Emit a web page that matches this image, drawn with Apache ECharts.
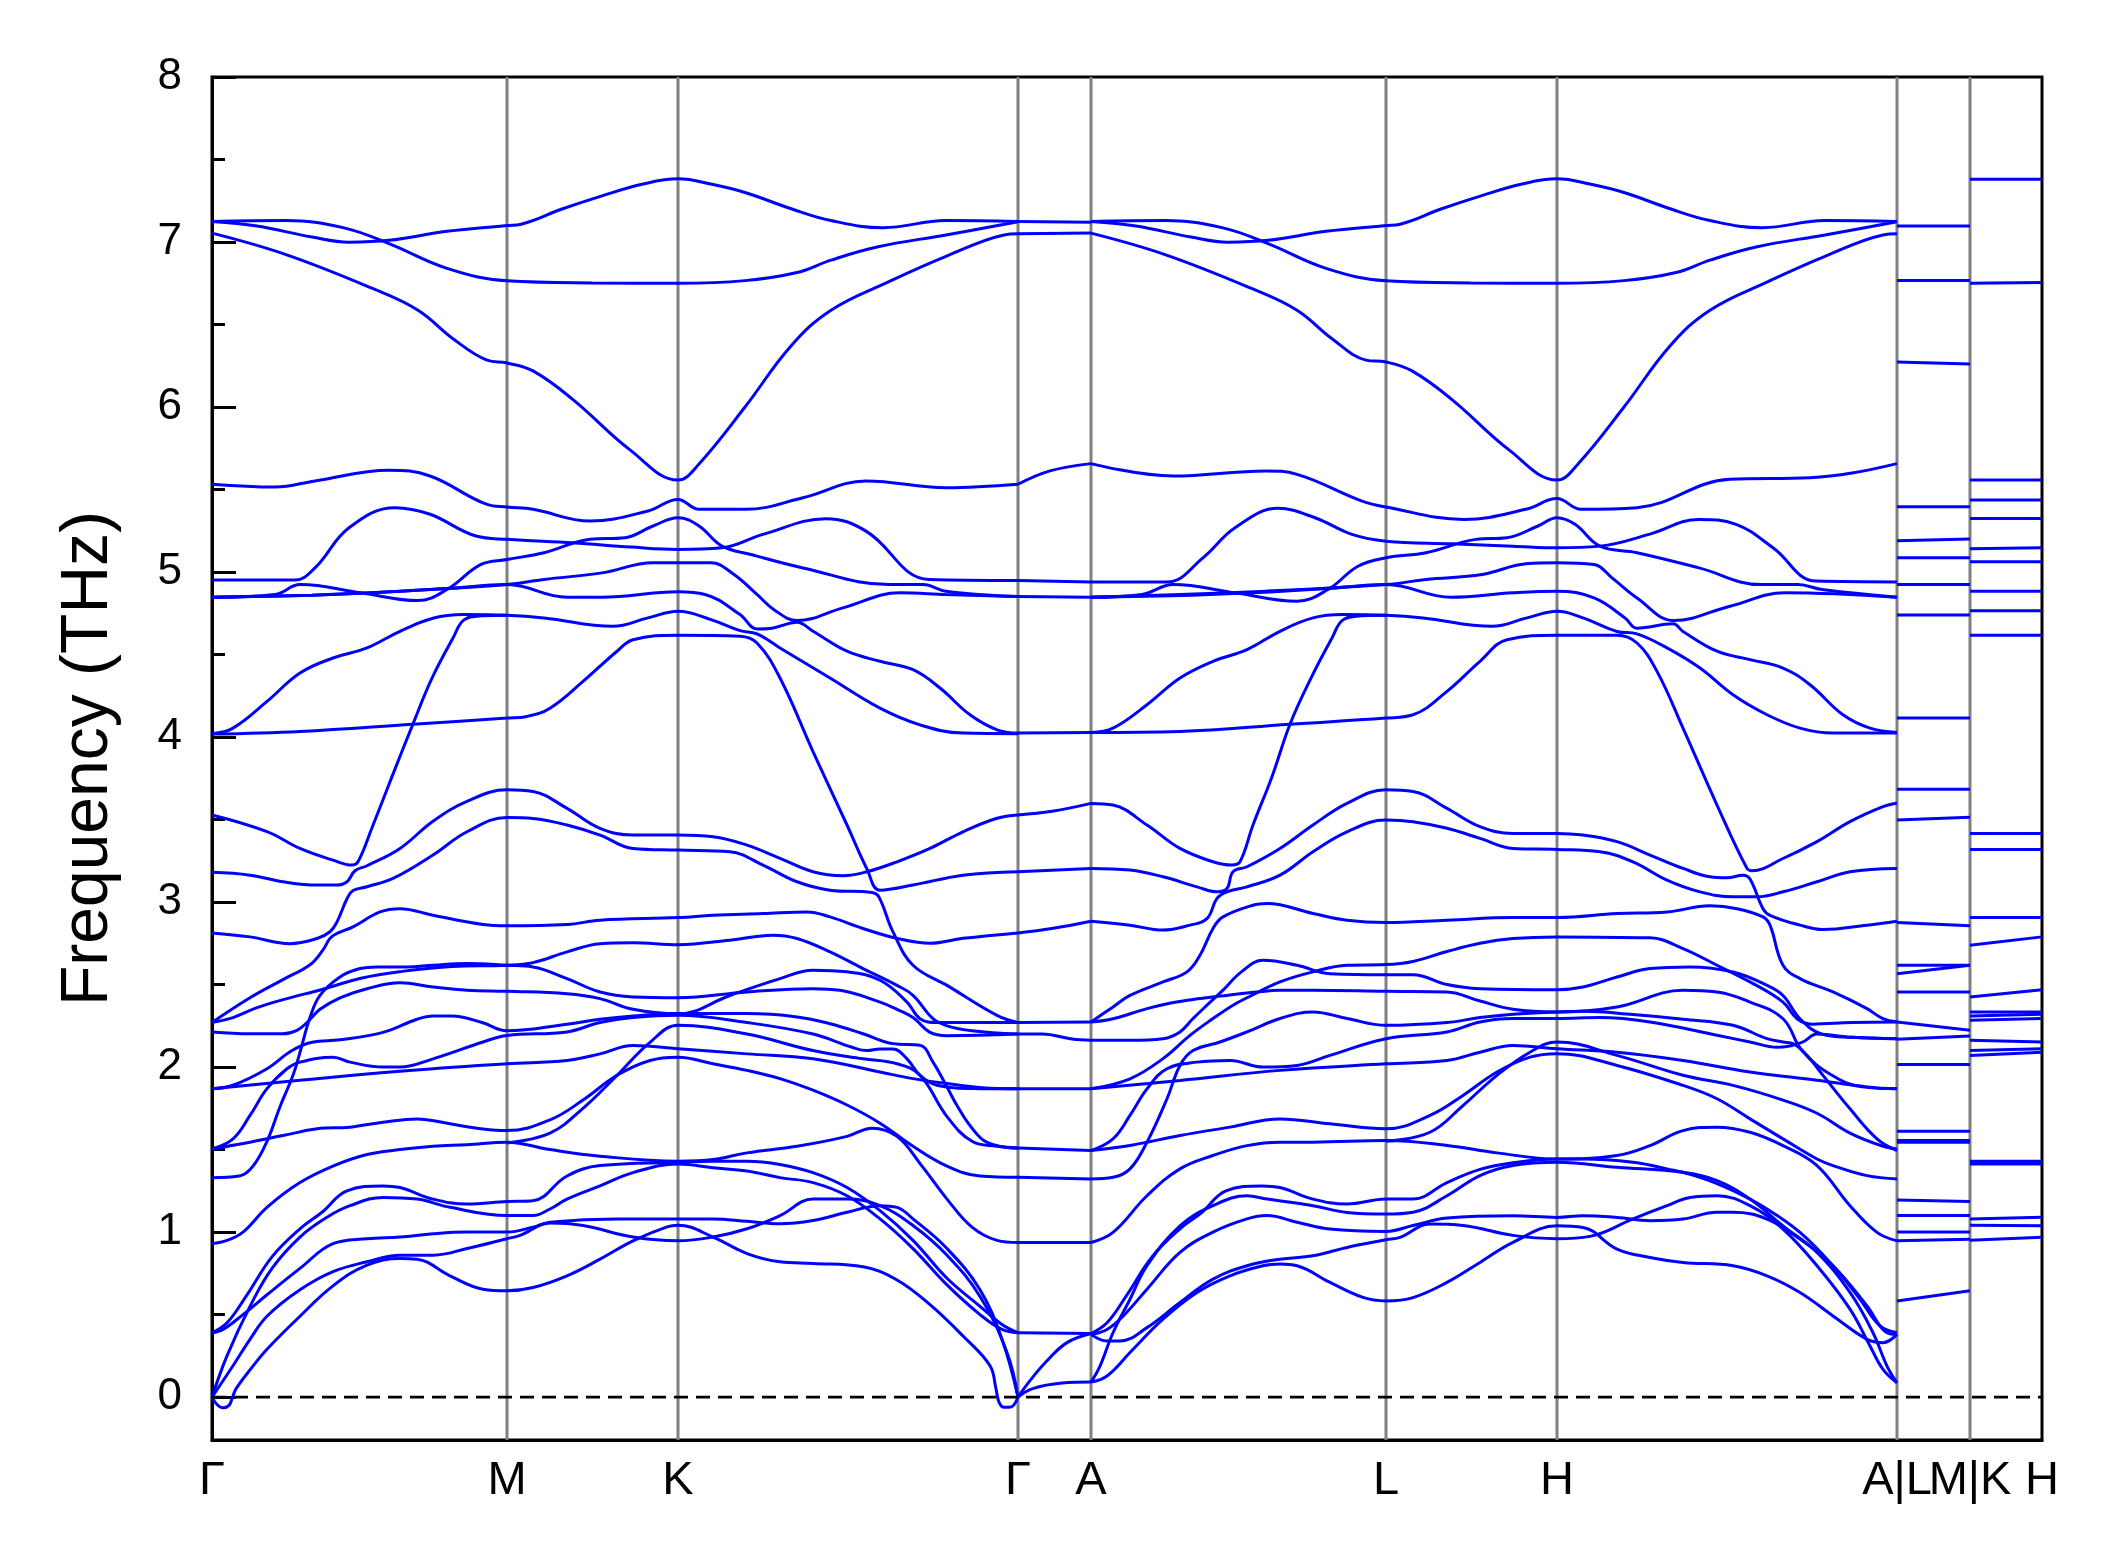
<!DOCTYPE html>
<html>
<head>
<meta charset="utf-8">
<script src="https://cdn.jsdelivr.net/npm/echarts/dist/echarts.min.js"></script>
<style>
html,body{margin:0;padding:0;background:#fff;}
#chart{width:2120px;height:1567px;}
</style>
</head>
<body>
<div id="chart"></div>
<script>
// ---- high-symmetry path ----
const kLabels = ['Γ','M','K','Γ','A','L','H','A|L','M|K','H'];
const kPos = [0,295,466,806,879,1174,1345,1685,1758,1830];
const yMajor = [0,1,2,3,4,5,6,7,8];
const yMinor = [0.5,1.5,2.5,3.5,4.5,5.5,6.5,7.5];

// ---- Γ-M-K-Γ : upper bands ----
const upperGMKG = [
 [[0,7.124],[45,7.097],[100,7.03],[137,6.999],[177,7.01],[235,7.065],[295,7.1],[309,7.108],[350,7.2],[390,7.28],[430,7.35],[466,7.383],[500,7.35],[533,7.3],[580,7.2],[619,7.13],[671,7.087],[734,7.13],[806,7.125]],
 [[0,7.124],[74,7.13],[131,7.087],[177,6.99],[235,6.84],[295,6.765],[380,6.752],[466,6.75],[533,6.766],[585,6.815],[619,6.89],[665,6.97],[734,7.043],[806,7.123]],
 [[0,7.054],[74,6.924],[160,6.72],[206,6.587],[241,6.414],[275,6.284],[295,6.267],[321,6.219],[361,6.045],[418,5.74],[466,5.557],[487,5.655],[533,6.0],[579,6.37],[619,6.587],[677,6.76],[734,6.913],[792,7.043],[806,7.05]],
 [[0,5.532],[63,5.515],[103,5.552],[177,5.617],[218,5.582],[275,5.41],[295,5.394],[321,5.38],[378,5.309],[436,5.37],[466,5.44],[487,5.38],[533,5.38],[591,5.45],[654,5.552],[734,5.511],[806,5.532]],
 [[0,4.951],[83,4.951],[103,5.025],[137,5.268],[183,5.39],[218,5.35],[264,5.218],[295,5.198],[361,5.177],[419,5.151],[466,5.137],[510,5.147],[551,5.228],[614,5.323],[654,5.248],[717,4.955],[806,4.949]],
 [[0,4.847],[63,4.864],[88,4.924],[149,4.874],[206,4.827],[235,4.894],[269,5.046],[295,5.076],[332,5.117],[378,5.198],[413,5.208],[441,5.279],[466,5.329],[487,5.279],[510,5.157],[539,5.106],[591,5.025],[677,4.924],[711,4.924],[734,4.884],[806,4.851]],
 [[0,4.847],[100,4.86],[160,4.874],[235,4.9],[295,4.924],[332,4.955],[390,4.995],[441,5.056],[466,5.056],[499,5.056],[522,4.985],[545,4.864],[562,4.772],[585,4.706],[631,4.783],[688,4.874],[734,4.864],[806,4.851]],
 [[0,4.847],[100,4.86],[160,4.874],[235,4.9],[295,4.924],[355,4.847],[390,4.847],[466,4.88],[493,4.864],[528,4.742],[545,4.655],[560,4.66],[585,4.695],[601,4.641],[635,4.52],[668,4.459],[701,4.408],[728,4.297],[758,4.135],[785,4.044],[806,4.024]],
 [[0,4.02],[21,4.054],[55,4.216],[88,4.388],[121,4.479],[155,4.54],[188,4.641],[221,4.72],[252,4.742],[295,4.738],[332,4.722],[401,4.671],[436,4.722],[466,4.762],[499,4.712],[528,4.645],[545,4.625],[568,4.54],[618,4.358],[668,4.175],[708,4.074],[751,4.024],[806,4.02]],
 [[0,4.018],[88,4.034],[201,4.078],[295,4.115],[315,4.125],[338,4.175],[371,4.337],[405,4.52],[421,4.59],[466,4.617],[528,4.611],[545,4.57],[568,4.358],[601,3.912],[635,3.467],[655,3.2],[668,3.072],[701,3.103],[751,3.163],[806,3.184]]
];

// ---- Γ-M-K-Γ : middle bands ----
const middleGMKG = [
 [[0,3.528],[55,3.427],[88,3.325],[121,3.254],[140,3.224],[146,3.244],[160,3.45],[180,3.76],[201,4.08],[220,4.357],[241,4.6],[252,4.71],[270,4.735],[295,4.738]],
 [[0,3.18],[38,3.163],[71,3.123],[105,3.103],[125,3.103],[135,3.123],[143,3.19],[155,3.22],[188,3.325],[221,3.49],[255,3.61],[295,3.68],[321,3.67],[355,3.568],[388,3.447],[421,3.406],[466,3.406],[501,3.396],[535,3.345],[568,3.265],[601,3.184],[631,3.16],[655,3.184],[685,3.244],[718,3.325],[751,3.426],[785,3.508],[806,3.528]],
 [[0,2.813],[38,2.789],[78,2.748],[105,2.779],[118,2.82],[125,2.88],[135,3.02],[141,3.07],[155,3.093],[181,3.143],[221,3.285],[255,3.426],[295,3.513],[321,3.507],[355,3.467],[388,3.406],[421,3.325],[466,3.315],[518,3.305],[551,3.224],[585,3.123],[618,3.072],[660,3.058],[667,3.03],[681,2.819],[701,2.617],[735,2.495],[785,2.313],[806,2.27]],
 [[0,2.27],[38,2.42],[71,2.53],[98,2.62],[111,2.71],[118,2.78],[125,2.81],[141,2.85],[168,2.94],[188,2.96],[221,2.92],[271,2.864],[295,2.856],[355,2.864],[388,2.89],[466,2.906],[501,2.92],[551,2.93],[595,2.94],[618,2.91],[651,2.84],[685,2.78],[718,2.75],[751,2.78],[806,2.813]],
 [[0,2.27],[21,2.3],[45,2.36],[75,2.415],[110,2.47],[150,2.54],[190,2.58],[240,2.61],[295,2.617],[321,2.633],[355,2.698],[388,2.748],[421,2.754],[466,2.742],[518,2.769],[561,2.799],[585,2.779],[618,2.698],[651,2.597],[685,2.495],[701,2.435],[721,2.293],[735,2.25],[760,2.22],[806,2.2]],
 [[0,1.33],[27,1.34],[41,1.4],[55,1.55],[68,1.76],[81,1.95],[88,2.09],[98,2.3],[108,2.434],[128,2.546],[148,2.597],[165,2.607],[195,2.607],[221,2.617],[255,2.627],[295,2.617],[321,2.607],[355,2.536],[388,2.455],[421,2.425],[466,2.42],[535,2.455],[601,2.475],[628,2.465],[668,2.394],[685,2.35],[701,2.3],[718,2.21],[735,2.19],[806,2.2]],
 [[0,2.213],[38,2.202],[71,2.202],[85,2.223],[95,2.27],[108,2.35],[128,2.42],[155,2.475],[188,2.511],[221,2.485],[255,2.465],[295,2.459],[355,2.445],[388,2.415],[421,2.35],[466,2.323],[518,2.434],[568,2.536],[601,2.587],[635,2.577],[668,2.526],[695,2.394],[708,2.293],[725,2.27],[760,2.27],[806,2.27]]
];

// ---- Γ-M-K-Γ : lower bands ----
const lowerGMKG = [
 [[0,0],[5,-0.045],[11,-0.065],[17,-0.05],[20,-0.01],[24,0.05],[40,0.18],[55,0.29],[88,0.49],[121,0.674],[155,0.8],[188,0.84],[205,0.836],[238,0.735],[271,0.654],[295,0.644],[321,0.664],[355,0.735],[388,0.836],[421,0.947],[455,1.032],[466,1.042],[501,0.97],[535,0.87],[568,0.82],[601,0.81],[651,0.79],[685,0.71],[718,0.56],[751,0.37],[778,0.19],[784,0.05],[787,-0.03],[792,-0.062],[799,-0.06],[806,0]],
 [[0,0],[21,0.19],[38,0.35],[55,0.49],[88,0.65],[121,0.76],[155,0.82],[188,0.86],[221,0.86],[255,0.9],[295,0.96],[308,0.98],[338,1.055],[371,1.04],[421,0.97],[466,0.947],[501,0.97],[535,1.02],[568,1.1],[601,1.2],[635,1.2],[668,1.16],[701,1.04],[735,0.86],[768,0.61],[795,0.27],[806,0]],
 [[0,0],[15,0.25],[38,0.55],[60,0.78],[88,0.97],[115,1.09],[138,1.16],[171,1.21],[205,1.2],[238,1.15],[295,1.1],[321,1.1],[338,1.14],[355,1.2],[388,1.28],[421,1.36],[466,1.413],[501,1.39],[535,1.37],[568,1.33],[601,1.3],[635,1.22],[668,1.08],[701,0.9],[735,0.68],[768,0.5],[790,0.41],[806,0.39]],
 [[0,0.39],[11,0.41],[31,0.5],[55,0.62],[88,0.78],[121,0.93],[155,0.96],[188,0.97],[221,0.99],[255,1.0],[295,1.0],[321,1.03],[338,1.06],[405,1.08],[466,1.079],[501,1.08],[535,1.065],[568,1.05],[601,1.07],[635,1.12],[668,1.16],[685,1.15],[701,1.08],[735,0.9],[768,0.65],[790,0.35],[806,0]],
 [[0,0.39],[15,0.45],[35,0.62],[60,0.85],[88,1.02],[110,1.12],[135,1.25],[171,1.28],[188,1.27],[221,1.2],[255,1.17],[295,1.185],[321,1.19],[355,1.34],[388,1.403],[466,1.423],[501,1.43],[535,1.43],[568,1.41],[601,1.36],[635,1.27],[668,1.13],[701,0.95],[735,0.72],[768,0.55],[790,0.44],[806,0.39]],
 [[0,0.93],[15,0.95],[31,1.0],[55,1.15],[88,1.3],[121,1.4],[155,1.47],[188,1.5],[221,1.52],[255,1.53],[295,1.545],[338,1.5],[388,1.46],[466,1.43],[501,1.44],[535,1.48],[585,1.52],[635,1.58],[660,1.63],[685,1.58],[710,1.4],[735,1.2],[760,1.03],[785,0.95],[806,0.937]],
 [[0,1.504],[38,1.545],[71,1.585],[105,1.626],[138,1.636],[171,1.666],[205,1.686],[238,1.656],[271,1.625],[295,1.615],[338,1.68],[371,1.8],[405,1.95],[438,2.04],[466,2.06],[501,2.02],[535,1.98],[568,1.93],[601,1.86],[635,1.77],[668,1.66],[701,1.52],[735,1.4],[768,1.34],[806,1.332]],
 [[0,1.504],[21,1.565],[38,1.707],[55,1.869],[75,1.99],[88,2.03],[121,2.06],[138,2.03],[171,2.0],[188,2.0],[221,2.05],[271,2.152],[295,2.192],[355,2.213],[388,2.27],[421,2.3],[466,2.314],[535,2.27],[601,2.2],[640,2.12],[655,2.1],[668,2.11],[681,2.11],[695,2.05],[708,1.95],[725,1.89],[760,1.87],[806,1.868]],
 [[0,1.868],[88,1.92],[188,1.975],[295,2.02],[355,2.04],[388,2.08],[421,2.13],[466,2.111],[535,2.08],[601,2.05],[668,1.97],[701,1.93],[735,1.9],[770,1.875],[806,1.868]],
 [[0,1.868],[21,1.89],[55,1.99],[80,2.1],[100,2.15],[128,2.165],[171,2.21],[205,2.29],[221,2.31],[240,2.31],[270,2.27],[295,2.22],[355,2.26],[388,2.29],[421,2.31],[466,2.324],[535,2.324],[585,2.304],[618,2.263],[651,2.202],[681,2.142],[708,2.132],[721,2.03],[735,1.879],[745,1.767],[758,1.646],[775,1.544],[806,1.508]],
 [[295,1.54],[338,1.6],[371,1.75],[405,1.95],[438,2.15],[466,2.253],[535,2.2],[601,2.1],[651,2.05],[685,2.02],[708,1.95],[735,1.7],[760,1.55],[785,1.52],[806,1.51]]
];

// ---- Γ-A ----
const bandsGA = [
 [[806,7.125],[879,7.12]],[[806,7.05],[879,7.054]],
 [[806,5.532],[838,5.613],[879,5.657]],
 [[806,4.949],[879,4.94]],[[806,4.851],[879,4.847]],
 [[806,4.024],[879,4.028]],
 [[806,3.528],[840,3.55],[879,3.598]],
 [[806,3.184],[879,3.204]],
 [[806,2.813],[840,2.84],[879,2.884]],
 [[806,2.27],[879,2.273]],
 [[806,2.2],[830,2.2],[860,2.17],[879,2.162]],
 [[806,1.868],[879,1.868]],
 [[806,1.51],[879,1.494]],
 [[806,1.332],[879,1.322]],
 [[806,0.937],[879,0.937]],
 [[806,0.39],[879,0.385]],
 [[806,0],[820,0.05],[850,0.085],[879,0.091]],
 [[806,0],[818,0.1],[835,0.22],[855,0.33],[879,0.385]]
];

// ---- A-L-H-A : upper bands ----
const upperALHA = [
 [[879,7.124],[924,7.097],[979,7.03],[1016,6.999],[1056,7.01],[1114,7.065],[1174,7.1],[1188,7.108],[1229,7.2],[1269,7.28],[1309,7.35],[1345,7.383],[1379,7.35],[1412,7.3],[1459,7.2],[1498,7.13],[1550,7.087],[1613,7.13],[1685,7.125]],
 [[879,7.124],[953,7.13],[1010,7.087],[1056,6.99],[1114,6.84],[1174,6.765],[1259,6.752],[1345,6.75],[1412,6.766],[1464,6.815],[1498,6.89],[1544,6.97],[1613,7.043],[1685,7.123]],
 [[879,7.054],[953,6.924],[1039,6.72],[1085,6.587],[1120,6.414],[1154,6.284],[1174,6.273],[1200,6.219],[1240,6.045],[1297,5.74],[1345,5.557],[1366,5.655],[1412,6.0],[1458,6.37],[1498,6.587],[1556,6.76],[1613,6.913],[1671,7.043],[1685,7.05]],
 [[879,5.657],[961,5.582],[1054,5.613],[1085,5.592],[1150,5.43],[1174,5.394],[1252,5.319],[1314,5.38],[1345,5.445],[1369,5.38],[1425,5.39],[1518,5.562],[1598,5.572],[1640,5.6],[1685,5.657]],
 [[879,4.94],[955,4.94],[991,5.086],[1023,5.268],[1066,5.386],[1103,5.329],[1140,5.228],[1174,5.187],[1239,5.171],[1301,5.157],[1345,5.147],[1388,5.157],[1437,5.228],[1487,5.319],[1524,5.289],[1561,5.147],[1604,4.945],[1685,4.94]],
 [[879,4.847],[930,4.864],[961,4.924],[1023,4.874],[1085,4.823],[1116,4.894],[1146,5.035],[1174,5.086],[1214,5.117],[1264,5.198],[1295,5.208],[1326,5.279],[1345,5.329],[1363,5.289],[1388,5.157],[1425,5.117],[1487,5.025],[1549,4.924],[1586,4.924],[1610,4.894],[1685,4.847]],
 [[879,4.847],[1054,4.884],[1174,4.924],[1214,4.955],[1270,4.985],[1314,5.05],[1345,5.056],[1382,5.046],[1400,4.965],[1425,4.843],[1462,4.706],[1518,4.793],[1573,4.874],[1685,4.847]],
 [[879,4.847],[980,4.86],[1040,4.874],[1114,4.9],[1174,4.924],[1239,4.847],[1301,4.874],[1345,4.884],[1382,4.843],[1413,4.722],[1425,4.66],[1461,4.686],[1471,4.64],[1505,4.52],[1538,4.469],[1571,4.418],[1598,4.317],[1631,4.135],[1658,4.054],[1685,4.028]],
 [[879,4.028],[901,4.054],[935,4.196],[968,4.358],[1001,4.459],[1035,4.53],[1068,4.641],[1101,4.722],[1131,4.742],[1174,4.738],[1211,4.722],[1280,4.671],[1315,4.722],[1345,4.762],[1371,4.722],[1405,4.64],[1425,4.625],[1455,4.54],[1488,4.418],[1521,4.256],[1555,4.135],[1588,4.054],[1621,4.024],[1685,4.024]],
 [[879,4.028],[968,4.034],[1078,4.078],[1174,4.115],[1201,4.135],[1235,4.277],[1268,4.459],[1295,4.59],[1345,4.617],[1405,4.617],[1425,4.57],[1445,4.398],[1471,4.054],[1505,3.588],[1535,3.204],[1540,3.19],[1571,3.264],[1605,3.366],[1638,3.487],[1671,3.578],[1685,3.6]]
];

// ---- A-L-H-A : middle bands ----
const middleALHA = [
 [[879,3.598],[901,3.588],[935,3.467],[968,3.325],[1001,3.244],[1020,3.224],[1028,3.244],[1041,3.467],[1060,3.76],[1078,4.078],[1099,4.357],[1120,4.6],[1131,4.71],[1150,4.735],[1174,4.738]],
 [[879,3.204],[918,3.194],[951,3.153],[985,3.092],[1005,3.062],[1015,3.082],[1021,3.184],[1035,3.214],[1068,3.325],[1101,3.467],[1135,3.598],[1174,3.68],[1201,3.67],[1235,3.568],[1268,3.457],[1301,3.416],[1345,3.416],[1371,3.406],[1405,3.366],[1438,3.285],[1471,3.204],[1498,3.153],[1515,3.147],[1531,3.163],[1538,3.14],[1551,2.96],[1558,2.92],[1588,2.86],[1611,2.833],[1655,2.86],[1685,2.884]],
 [[879,2.884],[918,2.86],[951,2.83],[978,2.86],[995,2.9],[1005,3.022],[1015,3.062],[1035,3.092],[1068,3.163],[1101,3.305],[1135,3.426],[1174,3.497],[1201,3.487],[1235,3.447],[1268,3.386],[1301,3.325],[1345,3.319],[1388,3.305],[1421,3.244],[1455,3.133],[1488,3.062],[1521,3.032],[1545,3.032],[1571,3.062],[1605,3.123],[1638,3.184],[1685,3.204]],
 [[879,2.273],[900,2.36],[918,2.434],[951,2.516],[975,2.577],[988,2.678],[1001,2.84],[1011,2.91],[1041,2.981],[1055,2.991],[1101,2.931],[1135,2.89],[1174,2.876],[1235,2.89],[1301,2.906],[1345,2.906],[1405,2.93],[1455,2.94],[1498,2.977],[1525,2.96],[1551,2.91],[1558,2.86],[1571,2.617],[1588,2.536],[1621,2.455],[1655,2.354],[1671,2.293],[1685,2.273]],
 [[879,2.162],[918,2.162],[951,2.172],[968,2.213],[981,2.294],[995,2.375],[1010,2.46],[1030,2.58],[1051,2.647],[1085,2.617],[1118,2.566],[1174,2.56],[1201,2.56],[1235,2.5],[1268,2.475],[1345,2.469],[1371,2.485],[1405,2.546],[1438,2.597],[1478,2.607],[1521,2.576],[1555,2.495],[1571,2.434],[1588,2.293],[1610,2.2],[1640,2.18],[1685,2.172]],
 [[879,1.868],[918,1.929],[951,2.051],[978,2.192],[1001,2.294],[1021,2.375],[1035,2.42],[1068,2.516],[1101,2.577],[1135,2.617],[1174,2.621],[1201,2.64],[1235,2.7],[1268,2.75],[1301,2.779],[1345,2.789],[1438,2.783],[1471,2.718],[1505,2.617],[1538,2.516],[1571,2.394],[1585,2.293],[1600,2.26],[1640,2.27],[1685,2.273]],
 [[879,2.273],[901,2.293],[935,2.354],[960,2.39],[981,2.41],[1008,2.43],[1045,2.455],[1068,2.465],[1101,2.465],[1174,2.459],[1235,2.455],[1268,2.4],[1301,2.35],[1345,2.333],[1405,2.364],[1471,2.465],[1505,2.455],[1538,2.394],[1571,2.293],[1590,2.1],[1620,1.95],[1650,1.88],[1685,1.868]]
];

// ---- A-L-H-A : lower bands ----
const lowerALHA = [
 [[879,1.322],[901,1.332],[918,1.383],[935,1.545],[955,1.808],[968,2.01],[981,2.1],[1008,2.152],[1035,2.213],[1068,2.294],[1101,2.334],[1135,2.294],[1174,2.253],[1235,2.27],[1268,2.3],[1301,2.32],[1345,2.334],[1371,2.338],[1421,2.318],[1471,2.29],[1521,2.253],[1555,2.172],[1571,2.152],[1581,2.142],[1595,2.071],[1611,1.95],[1638,1.747],[1665,1.565],[1685,1.494]],
 [[879,1.868],[968,1.919],[1068,1.98],[1174,2.02],[1235,2.04],[1268,2.09],[1301,2.131],[1345,2.111],[1405,2.09],[1471,2.04],[1538,1.97],[1605,1.92],[1655,1.88],[1685,1.868]],
 [[879,1.494],[901,1.565],[918,1.707],[935,1.868],[955,1.99],[985,2.03],[1018,2.04],[1051,2.0],[1085,2.01],[1118,2.071],[1174,2.172],[1235,2.213],[1268,2.273],[1301,2.294],[1345,2.294],[1388,2.3],[1438,2.273],[1505,2.193],[1538,2.152],[1565,2.12],[1590,2.15],[1605,2.2],[1640,2.18],[1685,2.172]],
 [[879,1.494],[918,1.525],[968,1.585],[1018,1.636],[1068,1.686],[1118,1.656],[1174,1.626],[1218,1.707],[1251,1.828],[1285,1.97],[1318,2.06],[1345,2.081],[1405,2.01],[1471,1.889],[1505,1.808],[1538,1.686],[1571,1.565],[1605,1.443],[1621,1.403],[1655,1.342],[1685,1.322]],
 [[879,0.937],[901,0.998],[935,1.22],[968,1.383],[1001,1.464],[1035,1.524],[1068,1.545],[1101,1.545],[1174,1.555],[1235,1.525],[1285,1.48],[1345,1.443],[1405,1.464],[1438,1.524],[1471,1.615],[1505,1.636],[1538,1.605],[1571,1.524],[1605,1.403],[1638,1.16],[1665,0.998],[1685,0.947]],
 [[1174,1.55],[1218,1.605],[1251,1.767],[1285,1.95],[1318,2.09],[1345,2.152],[1405,2.071],[1471,1.95],[1521,1.889],[1571,1.8],[1605,1.72],[1638,1.6],[1671,1.52],[1685,1.504]],
 [[879,0.091],[888,0.188],[901,0.39],[918,0.593],[935,0.796],[968,1.038],[1001,1.16],[1035,1.22],[1055,1.2],[1101,1.16],[1135,1.119],[1174,1.109],[1201,1.12],[1235,1.22],[1268,1.342],[1301,1.403],[1345,1.423],[1405,1.393],[1471,1.362],[1505,1.312],[1538,1.2],[1571,1.038],[1605,0.877],[1638,0.634],[1661,0.39],[1675,0.188],[1685,0.087]],
 [[879,0.38],[895,0.41],[911,0.49],[935,0.654],[968,0.877],[1001,1.0],[1035,1.08],[1055,1.1],[1085,1.06],[1118,1.018],[1174,1.004],[1201,1.04],[1235,1.085],[1301,1.099],[1345,1.089],[1371,1.099],[1405,1.089],[1438,1.069],[1471,1.079],[1505,1.12],[1521,1.12],[1555,1.079],[1588,0.958],[1621,0.796],[1655,0.553],[1675,0.39],[1685,0.38]],
 [[879,0.38],[895,0.34],[908,0.34],[935,0.421],[968,0.573],[1001,0.715],[1035,0.796],[1068,0.836],[1101,0.856],[1135,0.907],[1174,0.953],[1188,0.968],[1218,1.049],[1251,1.04],[1301,0.98],[1345,0.96],[1378,0.974],[1421,1.08],[1455,1.16],[1478,1.21],[1505,1.22],[1538,1.16],[1571,1.018],[1605,0.796],[1638,0.533],[1658,0.31],[1671,0.168],[1685,0.087]],
 [[879,0.091],[895,0.128],[918,0.27],[951,0.472],[985,0.634],[1018,0.735],[1051,0.796],[1068,0.806],[1085,0.796],[1118,0.695],[1151,0.604],[1174,0.583],[1201,0.603],[1235,0.695],[1268,0.816],[1301,0.938],[1345,1.038],[1371,1.028],[1405,0.897],[1438,0.846],[1471,0.816],[1521,0.796],[1555,0.735],[1588,0.634],[1621,0.492],[1655,0.35],[1671,0.33],[1685,0.38]],
 [[879,0.385],[895,0.45],[915,0.62],[940,0.85],[968,1.02],[990,1.12],[1014,1.25],[1050,1.28],[1068,1.27],[1101,1.2],[1135,1.17],[1174,1.2],[1201,1.2],[1235,1.3],[1268,1.38],[1301,1.42],[1345,1.443],[1371,1.443],[1421,1.423],[1455,1.383],[1488,1.332],[1521,1.251],[1555,1.14],[1588,0.998],[1621,0.796],[1648,0.593],[1668,0.431],[1685,0.39]]
];

// ---- L-M segment (start value, end value) ----
const flatLM = [[7.097,7.097],[6.766,6.766],[6.273,6.26],[5.396,5.396],[5.19,5.2],[5.086,5.086],[4.925,4.925],[4.74,4.74],[4.115,4.115],[3.684,3.684],[3.497,3.514],[2.876,2.856],[2.617,2.617],[2.566,2.617],[2.455,2.455],[2.273,2.223],[2.168,2.188],[2.016,2.016],[1.611,1.611],[1.555,1.555],[1.545,1.545],[1.195,1.185],[1.1,1.1],[1.0,1.0],[0.947,0.957],[0.583,0.644]];
// ---- K-H segment (start value, end value) ----
const flatKH = [[7.38,7.38],[6.75,6.755],[5.557,5.557],[5.437,5.437],[5.325,5.325],[5.141,5.147],[5.062,5.062],[4.884,4.884],[4.766,4.766],[4.617,4.617],[3.416,3.416],[3.319,3.319],[2.906,2.906],[2.738,2.789],[2.424,2.469],[2.333,2.333],[2.31,2.32],[2.283,2.294],[2.162,2.152],[2.1,2.111],[2.07,2.09],[1.43,1.43],[1.423,1.423],[1.413,1.413],[1.08,1.09],[1.042,1.038],[0.95,0.968]];

// ---------------- build chart ----------------
const FONT = '"Liberation Sans", Arial, Helvetica, sans-serif';
const BLUE = '#0000ff';
const series = [];

// high-symmetry vertical lines
kPos.slice(1, kPos.length - 1).forEach(x => {
  series.push({type:'line', data:[[x,-0.26],[x,8]], symbol:'none', silent:true, z:1,
    lineStyle:{color:'#808080', width:3}, animation:false});
});
// zero dashed line
series.push({type:'line', data:[[kPos[0],0],[kPos[kPos.length-1],0]], symbol:'none', silent:true, z:5,
  lineStyle:{color:'#000', width:2.6, type:[14,8]}, animation:false});

function addBand(pts){
  series.push({type:'line', data:pts, symbol:'none', showSymbol:false, silent:true, z:3,
    smooth:0.4, animation:false,
    lineStyle:{color:BLUE, width:3}});
}
[upperGMKG, middleGMKG, lowerGMKG, bandsGA, upperALHA, middleALHA, lowerALHA].forEach(g => g.forEach(addBand));
flatLM.forEach(v => addBand([[kPos[7], v[0]], [kPos[8], v[1]]]));
flatKH.forEach(v => addBand([[kPos[8], v[0]], [kPos[9], v[1]]]));

const chart = echarts.init(document.getElementById('chart'), null, {renderer:'canvas'});
chart.setOption({
  backgroundColor:'#ffffff',
  animation:false,
  grid:{left:212, top:77, width:1830, height:1363, show:true, borderColor:'#000', borderWidth:3, backgroundColor:'transparent', containLabel:false},
  xAxis:{type:'value', min:kPos[0], max:kPos[kPos.length-1],
    axisLine:{show:true, onZero:false, lineStyle:{color:'#000', width:3}},
    axisTick:{show:false},
    splitLine:{show:false},
    axisLabel:{customValues:kPos, showMinLabel:true, showMaxLabel:true, margin:18,
      fontSize:47, color:'#000', fontFamily:FONT,
      formatter:(v) => { const i = kPos.indexOf(v); return i >= 0 ? kLabels[i] : ''; }}
  },
  yAxis:[
    {type:'value', min:-0.26, max:8, position:'left',
      name:'Frequency (THz)', nameLocation:'middle', nameGap:90, nameRotate:90,
      nameTextStyle:{fontSize:66, color:'#000', fontFamily:FONT},
      axisLine:{show:true, onZero:false, lineStyle:{color:'#000', width:3}},
      axisTick:{show:true, inside:true, length:24, customValues:yMajor, lineStyle:{color:'#000', width:3}},
      axisLabel:{customValues:yMajor, fontSize:44, color:'#000', fontFamily:FONT, margin:30},
      splitLine:{show:false}},
    {type:'value', min:-0.26, max:8, position:'left',
      axisLine:{show:false, onZero:false},
      axisTick:{show:true, inside:true, length:13, customValues:yMinor, lineStyle:{color:'#000', width:3}},
      axisLabel:{show:false},
      splitLine:{show:false}}
  ],
  series:series
});
</script>
</body>
</html>
